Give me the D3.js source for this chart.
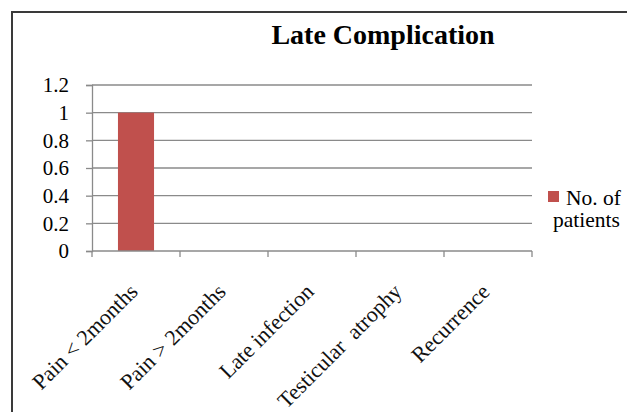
<!DOCTYPE html>
<html>
<head>
<meta charset="utf-8">
<script src="https://cdn.jsdelivr.net/npm/d3@7"></script>
<style>
  html, body { margin: 0; padding: 0; background: #fff; }
  svg { display: block; }
  svg text { font-family: "Liberation Serif", "Times New Roman", serif; }
</style>
</head>
<body>
<svg id="chart" width="627" height="412"></svg>
<script>
// Late complications after surgery, count of patients per complication
const categories = ["Pain < 2months", "Pain > 2months", "Late infection", "Testicular  atrophy", "Recurrence"];
const patients = [1, 0, 0, 0, 0];
const yTicks = [0, 0.2, 0.4, 0.6, 0.8, 1, 1.2];
const yTickLabels = ["0", "0.2", "0.4", "0.6", "0.8", "1", "1.2"];
const seriesName = ["No. of", "patients"];
const chartTitle = "Late Complication";

const svg = d3.select("#chart");
const W = 627, H = 412;
const plot = { left: 92, right: 532, top: 85, bottom: 251 };
const serif = "'Liberation Serif', 'Times New Roman', serif";
const axisGrey = "#8a8a8a";

// chart area frame (runs off the right and bottom edges)
svg.append("rect")
  .attr("x", 12).attr("y", 12)
  .attr("width", W + 40).attr("height", H + 40)
  .attr("fill", "#fff")
  .attr("stroke", "#3a3a3a").attr("stroke-width", 2);

const x = d3.scaleBand()
  .domain(categories)
  .range([plot.left, plot.right])
  .paddingInner(0.59)
  .paddingOuter(0.295);

const y = d3.scaleLinear()
  .domain([0, 1.2])
  .range([plot.bottom, plot.top]);

// horizontal gridlines
svg.append("g")
  .selectAll("line")
  .data(yTicks.filter(v => v > 0))
  .join("line")
  .attr("x1", plot.left).attr("x2", plot.right)
  .attr("y1", d => y(d)).attr("y2", d => y(d))
  .attr("stroke", axisGrey).attr("stroke-width", 1.3);

// bars
svg.append("g")
  .selectAll("rect")
  .data(categories.map((c, i) => ({ c, v: patients[i] })))
  .join("rect")
  .attr("x", d => x(d.c))
  .attr("width", x.bandwidth())
  .attr("y", d => y(d.v))
  .attr("height", d => y(0) - y(d.v))
  .attr("fill", "#C0504D");

// y axis
const yAxis = svg.append("g")
  .attr("transform", `translate(${plot.left},0)`)
  .call(d3.axisLeft(y)
    .tickValues(yTicks)
    .tickFormat((d, i) => yTickLabels[i])
    .tickSize(6)
    .tickPadding(17))
  .attr("font-family", serif)
  .attr("font-size", 21);
yAxis.select(".domain").attr("stroke", axisGrey).attr("stroke-width", 1.3);
yAxis.selectAll(".tick line").attr("stroke", axisGrey).attr("stroke-width", 1.3);
yAxis.selectAll(".tick text").attr("fill", "#000");

// x axis line with tick marks on category boundaries
const half = (x.step() - x.bandwidth()) / 2;
const bounds = categories.map(c => x(c) - half)
  .concat([x(categories[categories.length - 1]) + x.bandwidth() + half]);
const xAxis = svg.append("g");
xAxis.append("line")
  .attr("x1", plot.left).attr("x2", plot.right)
  .attr("y1", plot.bottom).attr("y2", plot.bottom)
  .attr("stroke", axisGrey).attr("stroke-width", 1.3);
xAxis.selectAll("line.tk")
  .data(bounds)
  .join("line")
  .attr("class", "tk")
  .attr("x1", d => d).attr("x2", d => d)
  .attr("y1", plot.bottom).attr("y2", plot.bottom + 6)
  .attr("stroke", axisGrey).attr("stroke-width", 1.3);

// rotated category labels
xAxis.selectAll("text")
  .data(categories)
  .join("text")
  .attr("transform", d => `translate(${x(d) + x.bandwidth() / 2 + 3},${plot.bottom + 42}) rotate(-45)`)
  .attr("text-anchor", "end")
  .attr("fill", "#111")
  .style("font-size", "22px")
  .style("white-space", "pre")
  .text(d => d);

// title
svg.append("text")
  .attr("x", 383).attr("y", 44)
  .attr("text-anchor", "middle")
  .attr("font-weight", "bold")
  .style("font-size", "28px")
  .attr("fill", "#000")
  .text(chartTitle);

// legend
const lg = svg.append("g");
lg.append("rect")
  .attr("x", 548).attr("y", 191)
  .attr("width", 11).attr("height", 11)
  .attr("fill", "#C0504D");
lg.append("text")
  .attr("x", 566).attr("y", 205)
  .style("font-size", "21.5px")
  .attr("fill", "#000")
  .text(seriesName[0]);
lg.append("text")
  .attr("x", 553).attr("y", 227)
  .style("font-size", "21.5px")
  .attr("fill", "#000")
  .text(seriesName[1]);
</script>
</body>
</html>
